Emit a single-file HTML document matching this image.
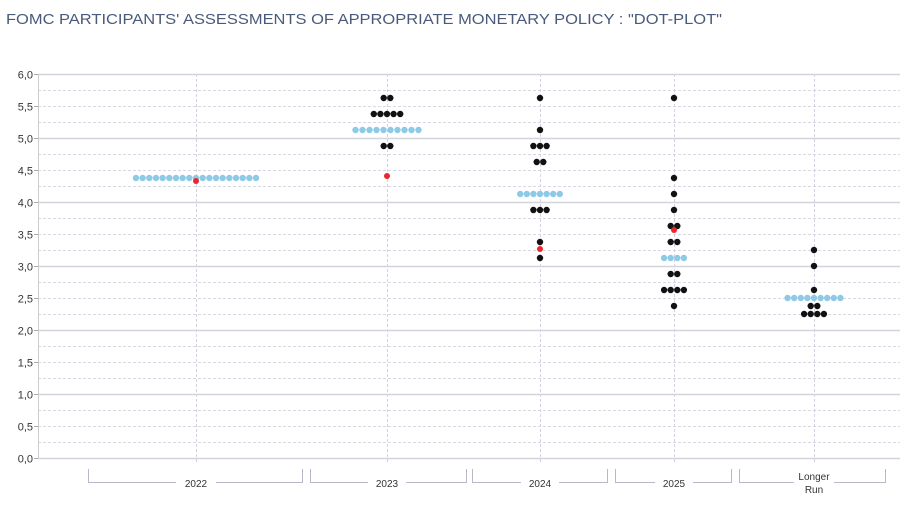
<!DOCTYPE html>
<html><head><meta charset="utf-8"><style>
body{margin:0;background:#fff;width:900px;height:510px;overflow:hidden}
svg{display:block}
text{font-family:"Liberation Sans",sans-serif}
</style></head><body>
<svg id="s" width="900" height="510" xmlns="http://www.w3.org/2000/svg">
<text x="6" y="24" font-size="15" fill="#4a5a7a" textLength="716" lengthAdjust="spacingAndGlyphs">FOMC PARTICIPANTS' ASSESSMENTS OF APPROPRIATE MONETARY POLICY : "DOT-PLOT"</text>
<g id="grid"></g>
<g id="dots"></g>
<g stroke="#b8b8c8" fill="none" stroke-width="1">
<path d="M88.5 469v13.5h214V469"/>
<path d="M310.5 469v13.5h156V469"/>
<path d="M472.5 469v13.5h135V469"/>
<path d="M615.5 469v13.5h116V469"/>
<path d="M739.5 469v13.5h146V469"/>
</g>
<g font-size="10" fill="#333" text-anchor="middle">
<rect x="176" y="478" width="40" height="10" fill="#fff"/><text x="196" y="487">2022</text>
<rect x="368" y="478" width="38" height="10" fill="#fff"/><text x="387" y="487">2023</text>
<rect x="521" y="478" width="38" height="10" fill="#fff"/><text x="540" y="487">2024</text>
<rect x="655" y="478" width="38" height="10" fill="#fff"/><text x="674" y="487">2025</text>
<rect x="794" y="470" width="40" height="26" fill="#fff"/><text x="814" y="480">Longer</text><text x="814" y="493">Run</text>
</g>
</svg>
<script>
var ns="http://www.w3.org/2000/svg";
function el(p,t,a){var e=document.createElementNS(ns,t);for(var k in a)e.setAttribute(k,a[k]);p.appendChild(e);return e;}
var g=document.getElementById('grid'),d=document.getElementById('dots');
function Y(v){return 458-v*64;}
for(var i=0;i<=24;i++){var v=i*0.25,y=Math.round(Y(v))+0.5;
 if(i%4==0) el(g,'line',{x1:38,x2:900,y1:y,y2:y,stroke:'#d4d4e0','stroke-width':1.5});
 else el(g,'line',{x1:38,x2:900,y1:y,y2:y,stroke:'#d8d8e4','stroke-dasharray':'3,2','stroke-width':1});
 if(i%2==0){var t=el(g,'text',{x:33,y:y+4,'font-size':11,fill:'#333','text-anchor':'end'});t.textContent=v.toFixed(1).replace('.',',');
 el(g,'line',{x1:34,x2:38,y1:y,y2:y,stroke:'#aaa'});}
}
el(g,'line',{x1:38.5,x2:38.5,y1:74,y2:458,stroke:'#ccc'});
var cols=[196,387,540,674,814];
cols.forEach(function(x){el(g,'line',{x1:x+0.5,x2:x+0.5,y1:74,y2:462,stroke:'#d8d0e0','stroke-dasharray':'3,2'});});
function row(cx,v,n,col,sp){sp=sp||6.6;for(var i=0;i<n;i++){el(d,'circle',{cx:cx+(i-(n-1)/2)*sp,cy:Y(v),r:3.2,fill:col});}}
var B='#111',L='#8ecae6',R='#e8282c';
row(196,4.375,19,L,6.67); el(d,'circle',{cx:196,cy:181,r:3,fill:R});
row(387,5.625,2,B);row(387,5.375,5,B);row(387,5.125,10,L,7);row(387,4.875,2,B);el(d,'circle',{cx:387,cy:176,r:3,fill:R});
row(540,5.625,1,B);row(540,5.125,1,B);row(540,4.875,3,B);row(540,4.625,2,B);row(540,4.125,7,L);row(540,3.875,3,B);row(540,3.375,1,B);row(540,3.125,1,B);el(d,'circle',{cx:540,cy:249,r:3,fill:R});
row(674,5.625,1,B);row(674,4.375,1,B);row(674,4.125,1,B);row(674,3.875,1,B);row(674,3.625,2,B);el(d,'circle',{cx:674,cy:230,r:3,fill:R});
row(674,3.375,2,B);row(674,3.125,4,L);row(674,2.875,2,B);row(674,2.625,4,B);row(674,2.375,1,B);
row(814,3.25,1,B);row(814,3.0,1,B);row(814,2.625,1,B);row(814,2.5,9,L);row(814,2.375,2,B);row(814,2.25,4,B);
</script>
</body></html>
